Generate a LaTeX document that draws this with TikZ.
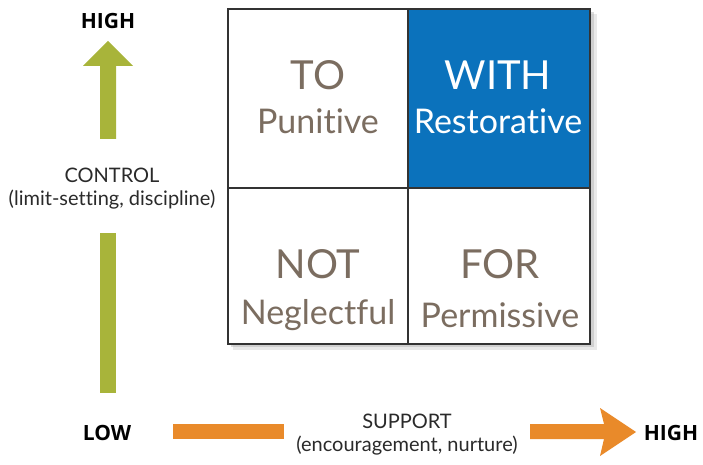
\documentclass[tikz,border=0pt]{standalone}
\usepackage{fontspec}
\setmainfont{Lato}[Ligatures=NoCommon]
\newfontfamily\boldfam{Open Sans}
\definecolor{ctrlgreen}{HTML}{A8B43A}
\definecolor{supporange}{HTML}{E98A2A}
\definecolor{withblue}{HTML}{0B72BC}
\definecolor{celltext}{HTML}{7B6D60}
\definecolor{labeltext}{HTML}{2A2A2A}
\definecolor{gridline}{HTML}{333333}
\begin{document}
\begin{tikzpicture}[x=1pt,y=-1pt,
  bigword/.style={font=\fontsize{40}{44}\selectfont,text=celltext,inner sep=0pt},
  subword/.style={font=\fontsize{34}{38}\selectfont,text=celltext,inner sep=0pt},
  axislabel/.style={font=\fontsize{20}{23}\selectfont,text=labeltext,align=center,inner sep=0pt},
  endlabel/.style={font=\boldfam\bfseries\fontsize{21}{24}\selectfont,text=black,inner sep=0pt}]
\useasboundingbox (0,0) rectangle (703,465);
% grid with soft shadow
\fill[gray!50,opacity=0.35] (233,14) rectangle (597,350);
\fill[gray!60,opacity=0.45] (231,12) rectangle (594,347);
\fill[white] (228,9) rectangle (590,344);
\fill[withblue] (408,9) rectangle (590,188);
\draw[gridline,line width=1.4pt] (228,9) rectangle (590,344);
\draw[gridline,line width=1.2pt] (408,9) -- (408,344);
\draw[gridline,line width=1.2pt] (228,188) -- (590,188);
% cell texts
\node[bigword] (to) at (318,75) {TO};
\node[subword] (punitive) at (318,121) {Punitive};
\node[bigword,text=white] (with) at (498,75) {WITH};
\node[subword,text=white] (restorative) at (498,121) {Restorative};
\node[bigword] (not) at (318,264) {NOT};
\node[subword] (neglectful) at (318,315) {Neglectful};
\node[bigword] (for) at (500,264) {FOR};
\node[subword] (permissive) at (500,315) {Permissive};
% vertical axis
\fill[ctrlgreen] (83,66) -- (108,41) -- (133,66) -- (116,66) -- (116,139) -- (100,139) -- (100,66) -- cycle;
\fill[ctrlgreen] (100,233) rectangle (116,393);
\node[endlabel] (hightop) at (108,21) {HIGH};
\node[axislabel] (control) at (112,189) {CONTROL\\(limit-setting, discipline)};
% horizontal axis
\fill[supporange] (173,424) rectangle (284,439);
\fill[supporange] (530,424) -- (604,424) -- (600,408) -- (636,432) -- (600,456) -- (604,439) -- (530,439) -- cycle;
\node[endlabel] (low) at (107,433) {LOW};
\node[endlabel] (highright) at (671,433) {HIGH};
\node[axislabel] (support) at (407,435) {SUPPORT\\(encouragement, nurture)};
\end{tikzpicture}
\end{document}
